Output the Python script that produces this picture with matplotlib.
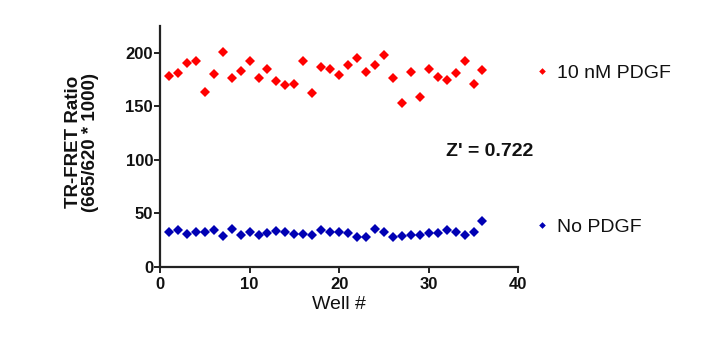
import matplotlib
matplotlib.use("Agg")
import matplotlib.pyplot as plt
import numpy as np

wells = list(range(1, 37))
pdgf_10nM = [178, 181, 190, 192, 163, 180, 201, 176, 183, 192, 176, 185, 174, 170, 171, 192,
             162, 187, 185, 179, 189, 195, 182, 189, 198, 176, 153, 182, 159, 185, 177, 175,
             181, 192, 171, 184]
no_pdgf = [32.5, 34.1, 30.9, 32.5, 32.5, 35.0, 29.0, 35.3, 30.3, 32.8, 30.0, 31.5, 33.4, 32.8,
           31.2, 31.2, 30.0, 34.1, 33.1, 32.5, 31.8, 28.4, 27.8, 35.6, 33.1, 27.8, 29.3, 30.0,
           30.0, 31.8, 32.2, 34.1, 32.8, 30.3, 32.8, 43.0]
series_labels = ["10 nM PDGF", "No PDGF"]
x_ticks = [0, 10, 20, 30, 40]
y_ticks = [0, 50, 100, 150, 200]
z_text = "Z' = 0.722"

plt.rcParams['font.family'] = ['Liberation Sans', 'DejaVu Sans']

W, H = 709, 342
fig = plt.figure(figsize=(W / 100, H / 100), dpi=100)
ax = fig.add_axes([160 / W, 1 - 267 / H, (518.3 - 160) / W, (267 - 26) / H])

red = '#ff0000'
blue = '#0000b4'
h1, = ax.plot(wells, pdgf_10nM, linestyle='none', marker='D', markersize=5.2,
              color=red, markeredgewidth=0, clip_on=False)
h2, = ax.plot(wells, no_pdgf, linestyle='none', marker='D', markersize=5.2,
              color=blue, markeredgewidth=0, clip_on=False)

ax.set_xlim(0, 40)
ax.set_ylim(0, 225)
ax.set_xticks(x_ticks)
ax.set_yticks(y_ticks)
for s in ['top', 'right']:
    ax.spines[s].set_visible(False)
for s in ['left', 'bottom']:
    ax.spines[s].set_linewidth(1.6)
    ax.spines[s].set_color('#222222')
ax.tick_params(axis='both', length=4, width=1.4, color='#222222', labelsize=12)
ax.tick_params(axis='y', pad=1)
ax.tick_params(axis='x', pad=3)
for lab in ax.get_xticklabels() + ax.get_yticklabels():
    lab.set_fontweight('bold')
    lab.set_color('#111111')

ax.set_xlabel("Well #", fontsize=14, labelpad=3, color='#111111')
fig.text(82 / W, 1 - 142 / H, "TR-FRET Ratio\n(665/620 * 1000)", rotation=90,
         ha='center', va='center', multialignment='center', fontsize=13.5,
         fontweight='bold', color='#111111', linespacing=1.0)

fig.text(446 / W, 1 - 151 / H, z_text, ha='left', va='center', fontsize=14,
         fontweight='bold', color='#111111')

leg1 = fig.legend([h1], [series_labels[0]], loc='center left',
                  bbox_to_anchor=(532 / W, 1 - 73 / H), frameon=False,
                  handlelength=1.0, handletextpad=0.3, borderpad=0, borderaxespad=0,
                  fontsize=14, markerscale=0.65)
leg2 = fig.legend([h2], [series_labels[1]], loc='center left',
                  bbox_to_anchor=(532 / W, 1 - 227 / H), frameon=False,
                  handlelength=1.0, handletextpad=0.3, borderpad=0, borderaxespad=0,
                  fontsize=14, markerscale=0.65)
for leg in (leg1, leg2):
    for t in leg.get_texts():
        t.set_color('#111111')

fig.savefig("out.png", dpi=100)
